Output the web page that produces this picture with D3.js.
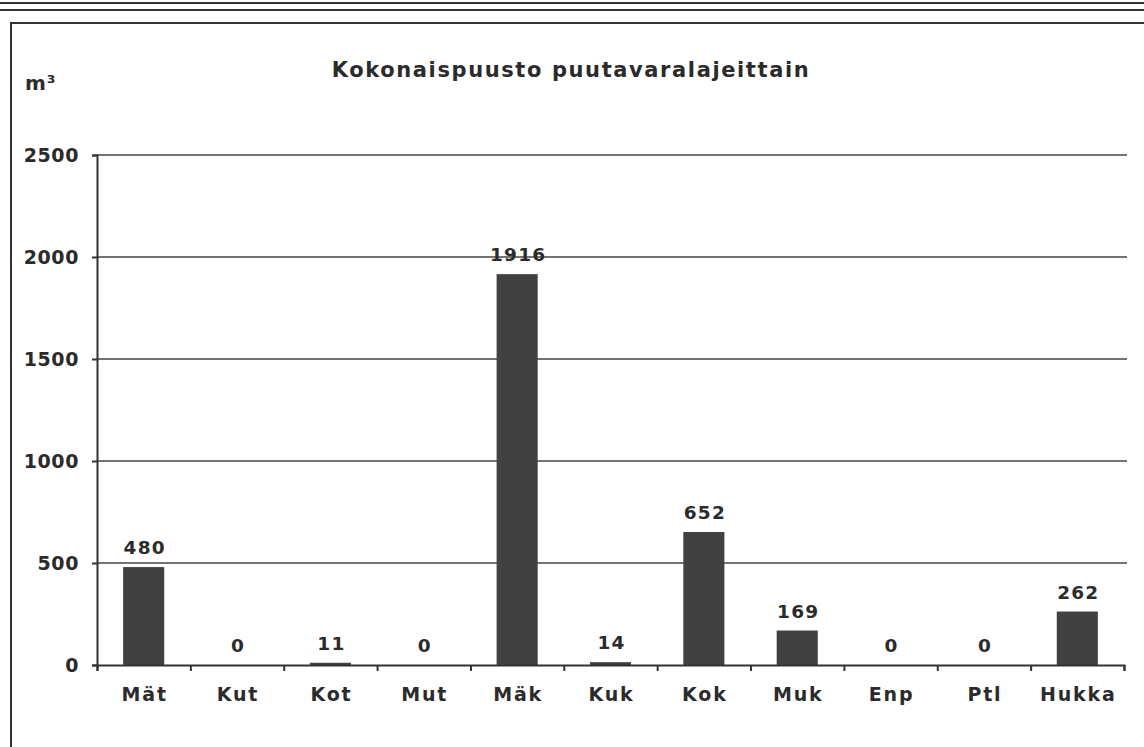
<!DOCTYPE html>
<html>
<head>
<meta charset="utf-8">
<script src="https://d3js.org/d3.v7.min.js"></script>
<style>
  body { margin: 0; background: #fff; }
  text { font-family: "DejaVu Sans", Verdana, sans-serif; font-weight: bold; fill: #2b2b2b; }
</style>
</head>
<body>
<div id="chart"></div>
<script>
var categories = ['Mät', 'Kut', 'Kot', 'Mut', 'Mäk', 'Kuk', 'Kok', 'Muk', 'Enp', 'Ptl', 'Hukka'];
var volumes = [480, 0, 11, 0, 1916, 14, 652, 169, 0, 0, 262];
var yTicks = [0, 500, 1000, 1500, 2000, 2500];

(function(){
  var width = 1144, height = 747;
  var plotLeft = 97, plotRight = 1124, plotTop = 155, plotBottom = 665;

  var svg = d3.select('#chart').append('svg')
              .attr('width', width).attr('height', height);

  // page rules and frame
  svg.append('line').attr('x1', 0).attr('x2', width).attr('y1', 3).attr('y2', 3)
     .attr('stroke', '#333').attr('stroke-width', 2);
  svg.append('line').attr('x1', 0).attr('x2', width).attr('y1', 10).attr('y2', 10)
     .attr('stroke', '#333').attr('stroke-width', 2);
  svg.append('path').attr('d', 'M11,' + height + 'V23H' + width)
     .attr('fill', 'none').attr('stroke', '#333').attr('stroke-width', 2);

  var x = d3.scaleBand().domain(categories).range([plotLeft, plotRight])
            .paddingInner(0.56).paddingOuter(0.28);
  var y = d3.scaleLinear().domain([0, 2500]).range([plotBottom, plotTop]);

  // gridlines
  svg.append('g').selectAll('line').data(yTicks.slice(1)).enter().append('line')
     .attr('x1', plotLeft).attr('x2', plotRight + 3)
     .attr('y1', function(d){ return y(d); }).attr('y2', function(d){ return y(d); })
     .attr('stroke', '#444').attr('stroke-width', 1.3);

  // bars
  svg.append('g').selectAll('rect').data(volumes).enter().append('rect')
     .attr('x', function(d, i){ return x(categories[i]); })
     .attr('width', x.bandwidth())
     .attr('y', function(d){ return y(d); })
     .attr('height', function(d){ return plotBottom - y(d); })
     .attr('fill', '#414141');

  // value labels
  svg.append('g').selectAll('text').data(volumes).enter().append('text')
     .attr('x', function(d, i){ return x(categories[i]) + x.bandwidth() / 2 + 1; })
     .attr('y', function(d){ return y(d) - 13; })
     .attr('text-anchor', 'middle')
     .attr('font-size', '18.5px')
     .attr('letter-spacing', '1.2px')
     .text(function(d){ return d; });

  // y axis
  var yAxis = svg.append('g').attr('transform', 'translate(' + plotLeft + ',0)')
     .call(d3.axisLeft(y).tickValues(yTicks).tickSize(5).tickPadding(13).tickFormat(d3.format('d')));
  yAxis.select('.domain').attr('stroke', '#333').attr('stroke-width', 2);
  yAxis.selectAll('.tick line').attr('stroke', '#333').attr('stroke-width', 2);
  yAxis.selectAll('text').attr('font-size', '19px').attr('fill', '#2b2b2b')
       .attr('letter-spacing', '0.6px').attr('dy', '0.35em').attr('font-family', null);

  // x axis with ticks on category boundaries
  var xb = d3.scaleLinear().domain([0, categories.length]).range([plotLeft, plotRight]);
  var xAxis = svg.append('g').attr('transform', 'translate(0,' + plotBottom + ')')
     .call(d3.axisBottom(xb).ticks(categories.length).tickSize(6).tickFormat(''));
  xAxis.select('.domain').attr('stroke', '#333').attr('stroke-width', 2);
  xAxis.selectAll('.tick line').attr('stroke', '#333').attr('stroke-width', 2);

  svg.append('g').selectAll('text').data(categories).enter().append('text')
     .attr('x', function(d){ return x(d) + x.bandwidth() / 2 + 1; })
     .attr('y', plotBottom + 36)
     .attr('text-anchor', 'middle')
     .attr('font-size', '19px')
     .attr('letter-spacing', '1.8px')
     .text(function(d){ return d; });

  // title and unit
  svg.append('text').attr('x', 571).attr('y', 77)
     .attr('text-anchor', 'middle').attr('font-size', '21px')
     .attr('letter-spacing', '1.6px')
     .text('Kokonaispuusto puutavaralajeittain');
  svg.append('text').attr('x', 25).attr('y', 90)
     .attr('font-size', '20px')
     .attr('letter-spacing', '1px')
     .text('m³');
})();
</script>
</body>
</html>
